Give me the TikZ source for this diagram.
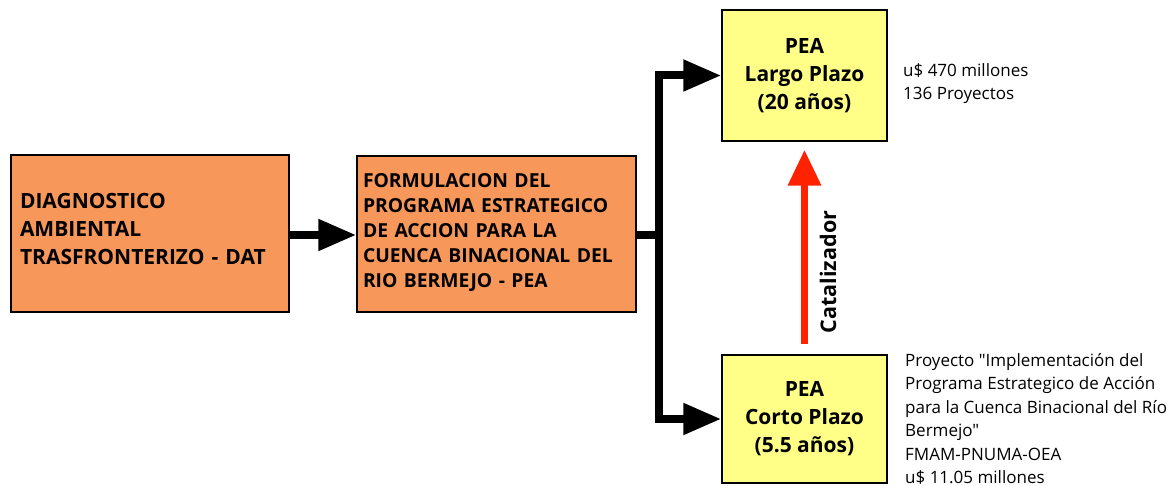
\documentclass[tikz,border=0pt]{standalone}
\usepackage{fontspec}
\setmainfont{Open Sans}
\newfontfamily\notefont{Open Sans}
\usetikzlibrary{arrows.meta}
\definecolor{orangebox}{RGB}{247,151,90}
\definecolor{yellowbox}{RGB}{255,255,136}
\definecolor{redarrow}{RGB}{255,34,0}
\tikzset{
  obox/.style={draw=black, line width=1.5pt, fill=orangebox, inner sep=0pt, align=left, font=\bfseries\fontsize{21}{28}\selectfont},
  ybox/.style={draw=black, line width=1.5pt, fill=yellowbox, inner sep=0pt, align=center, minimum width=165pt, font=\bfseries\fontsize{21}{28}\selectfont},
  note/.style={inner sep=0pt, align=left, anchor=north west, font=\notefont\fontsize{17}{23.5}\selectfont},
  conn/.style={line width=8pt, line join=miter, -{Triangle[length=38pt,width=30pt]}},
  plain/.style={line width=8pt},
  catarrow/.style={line width=7pt, draw=redarrow, -{Triangle[length=36pt,width=32pt]}, redarrow}
}
\begin{document}
\begin{tikzpicture}[x=1pt,y=-1pt]
\useasboundingbox (0,0) rectangle (1170,486);
\node[obox, minimum width=278pt, minimum height=157pt] (dat) at (150,233.5) {};
\node[obox, draw=none, fill=none, text width=260pt, anchor=center] (dattext) at (150,228.5)
  {DIAGNOSTICO\\AMBIENTAL\\TRASFRONTERIZO - DAT};
\node[obox, minimum width=279pt, minimum height=156pt] (pea) at (496.5,234) {};
\node[obox, draw=none, fill=none, text width=267pt, font=\bfseries\fontsize{19.3}{25}\selectfont] (peatext) at (496.5,232.5)
  {FORMULACION DEL\\PROGRAMA ESTRATEGICO\\DE ACCION PARA LA\\CUENCA BINACIONAL DEL\\RIO BERMEJO - PEA};
\node[ybox, minimum height=131pt] (largo) at (804.5,75.5) {PEA\\Largo Plazo\\(20 años)};
\node[ybox, minimum height=128pt] (corto) at (804.5,419) {PEA\\Corto Plazo\\(5.5 años)};
\node[note] (lnote) at (903,63) {u\$ 470 millones\\136 Proyectos};
\node[note] (cnote) at (905,353) {Proyecto "Implementación del\\Programa Estrategico de Acción\\para la Cuenca Binacional del Río\\Bermejo"\\FMAM-PNUMA-OEA\\u\$ 11.05 millones};
\coordinate (bx) at (659,235);
\draw[conn] (dat.east |- 0,235) -- (pea.west |- 0,235);
\draw[plain] (pea.east |- bx) -- (bx);
\draw[line width=8pt, line join=miter, {Triangle[length=38pt,width=30pt]}-{Triangle[length=38pt,width=30pt]}] (largo.west) -| (bx) |- (corto.west);
\draw[catarrow, shorten <=10pt, shorten >=8pt] (corto.north) -- (largo.south);
\node[rotate=90, inner sep=0pt, font=\bfseries\fontsize{21.5}{24}\selectfont] (cat) at (828,272) {Catalizador};
\end{tikzpicture}
\end{document}
